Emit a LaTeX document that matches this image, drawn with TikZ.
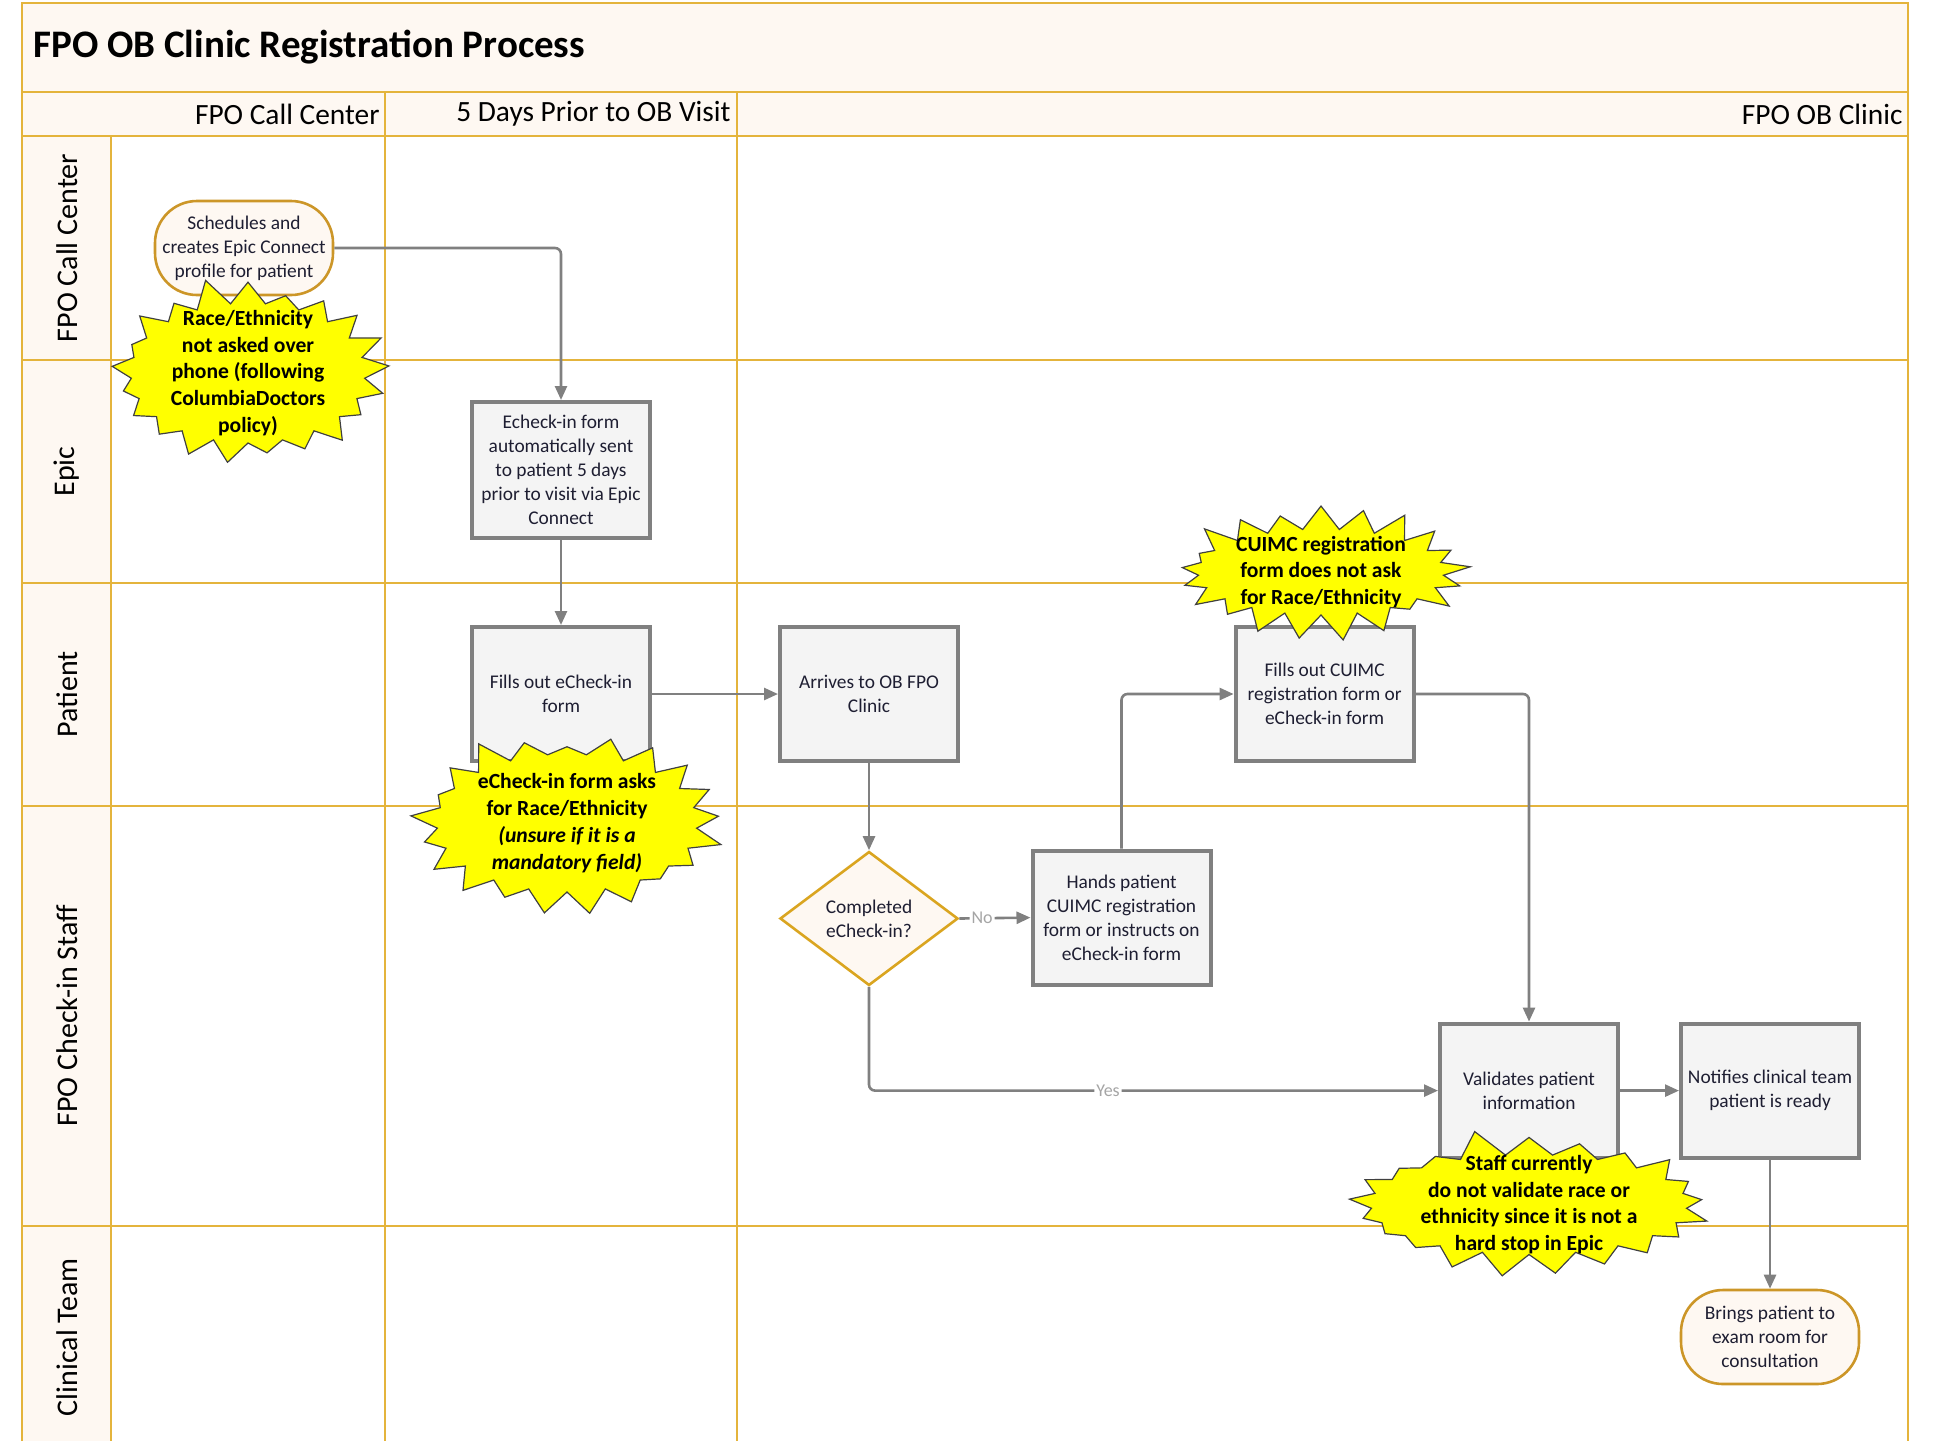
\documentclass[tikz,border=0pt]{standalone}
\usepackage{fontspec}
\setmainfont{Carlito}
\usepackage{tikz}
\usetikzlibrary{shapes.geometric, shapes.misc, shapes.symbols, arrows.meta, positioning, calc}
\definecolor{laneline}{RGB}{228, 180, 60}
\definecolor{lanefill}{RGB}{254, 248, 242}
\definecolor{boxgray}{RGB}{128, 128, 128}
\definecolor{boxfill}{RGB}{244, 244, 244}
\definecolor{termgold}{RGB}{204, 150, 40}
\definecolor{decgold}{RGB}{218, 165, 32}
\definecolor{labelgray}{RGB}{165, 165, 165}
\definecolor{textnavy}{RGB}{30, 30, 50}
\definecolor{burstyellow}{RGB}{255, 255, 0}

\begin{document}
\begin{tikzpicture}[x=0.5pt, y=-0.5pt,
  stepbox/.style={draw=boxgray, line width=2pt, fill=boxfill, minimum width=89pt, minimum height=67pt, align=center, inner sep=1pt, font=\fontsize{9.7}{12}\selectfont, text=textnavy},
  terminal/.style={rectangle, rounded corners=21pt, draw=termgold, line width=1.3pt, fill=lanefill, minimum width=89pt, minimum height=47pt, align=center, inner sep=0pt, font=\fontsize{9.7}{12}\selectfont, text=textnavy},
  decision/.style={diamond, draw=decgold, line width=1.3pt, fill=lanefill, minimum width=89pt, minimum height=67pt, inner sep=0pt, align=center, font=\fontsize{9.7}{12}\selectfont, text=textnavy},
  burst/.style={starburst, starburst points=21, starburst point height=14pt, draw=black!75, line width=0.6pt, fill=burstyellow, align=center, inner xsep=1pt, inner ysep=-10pt, font=\bfseries\fontsize{10.8}{13.4}\selectfont},
  flow/.style={draw=boxgray, line width=1.3pt, -{Triangle[length=7pt, width=6pt]}, rounded corners=3pt},
  lanetitle/.style={rotate=90, font=\fontsize{15}{18}\selectfont},
  coltitle/.style={anchor=east, inner sep=1pt, font=\fontsize{14.7}{17}\selectfont},
  flowlabel/.style={fill=white, inner sep=1pt, text=labelgray, font=\fontsize{9}{10}\selectfont}
]
  \useasboundingbox (0,0) rectangle (1941,1441);

  % Pool and lanes
  \fill[lanefill] (22,2.5) rectangle (1908,136);
  \fill[lanefill] (22,136) rectangle (111,1441);
  \begin{scope}[draw=laneline, line width=1pt]
    \draw (22,1441) -- (22,2.5) -- (1908,2.5) -- (1908,1441);
    \draw (22,91.6) -- (1908,91.6);
    \draw (22,136) -- (1908,136);
    \foreach \y in {360, 583, 806, 1225.5}
      \draw (22,\y) -- (1908,\y);
    \draw (111,136) -- (111,1441);
    \foreach \x in {385, 736.6}
      \draw (\x,91.6) -- (\x,1441);
  \end{scope}

  % Titles
  \node[anchor=west, inner sep=0pt, font=\bfseries\fontsize{19.5}{22}\selectfont] (title) at (33,47) {FPO OB Clinic Registration Process};
  \node[coltitle] (hdcall) at (382,114) {FPO Call Center};
  \node[coltitle] (hdprior) at (733,114) {5 Days Prior to OB Visit};
  \node[coltitle] (hdclinic) at (1905,114) {FPO OB Clinic};
  \node[lanetitle] (lncall) at (67,248) {FPO Call Center};
  \node[lanetitle] (lnepic) at (67,471.5) {Epic};
  \node[lanetitle] (lnpatient) at (67,694.5) {Patient};
  \node[lanetitle] (lnstaff) at (67,1015.75) {FPO Check-in Staff};
  \node[lanetitle] (lnclinical) at (67,1337) {Clinical Team};

  % Steps
  \node[terminal] (sched) at (244,248) {Schedules and\\creates Epic Connect\\profile for patient};
  \node[stepbox, minimum height=68pt] (echeck) at (561,470) {Echeck-in form\\automatically sent\\to patient 5 days\\prior to visit via Epic\\Connect};
  \node[stepbox] (fillecheck) at (561,694) {Fills out eCheck-in\\form};
  \node[stepbox] (arrive) at (869,694) {Arrives to OB FPO\\Clinic};
  \node[decision] (completed) at (869,918.5) {Completed\\eCheck-in?};
  \node[stepbox] (hands) at (1121.5,917.6) {Hands patient\\CUIMC registration\\form or instructs on\\eCheck-in form};
  \node[stepbox] (fillcuimc) at (1324.6,694) {Fills out CUIMC\\registration form or\\eCheck-in form};
  \node[stepbox] (validate) at (1529,1090.6) {Validates patient\\information};
  \node[stepbox] (notify) at (1770,1090.6) {Notifies clinical team\\patient is ready};
  \node[terminal] (brings) at (1770,1337) {Brings patient to\\exam room for\\consultation};

  % Connectors
  \draw[flow] (sched.east) -| (echeck.north);
  \draw[flow] (echeck) -- (fillecheck);
  \draw[flow] (fillecheck) -- (arrive);
  \draw[flow] (arrive) -- (completed);
  \draw[flow] (completed.east) -- node[flowlabel, pos=0.32] {No} (hands.west);
  \draw[flow] (hands.north) |- (fillcuimc.west);
  \draw[flow] (fillcuimc.east) -| (validate.north);
  \draw[flow] (completed.south) |- node[flowlabel, pos=0.71] {Yes} (validate.west);
  \draw[flow] (validate) -- (notify);
  \draw[flow] (notify) -- (brings);

  % Gaps in race/ethnicity capture
  \node[burst, random starburst=11, minimum width=145pt, minimum height=98pt] (burstcall) at (248,373) {Race/Ethnicity\\not asked over\\phone (following\\ColumbiaDoctors\\policy)};
  \node[burst, random starburst=23, minimum width=158pt, minimum height=97pt] (burstecheck) at (567,823) {eCheck-in form asks\\for Race/Ethnicity\\\textit{(unsure if it is a}\\\textit{mandatory field)}};
  \node[burst, random starburst=37, minimum width=137pt, minimum height=71pt] (burstcuimc) at (1321,572) {CUIMC registration\\form does not ask\\for Race/Ethnicity};
  \node[burst, random starburst=5, minimum width=186pt, minimum height=78pt] (burststaff) at (1529,1204.5) {Staff currently\\do not validate race or\\ethnicity since it is not a\\hard stop in Epic};
\end{tikzpicture}
\end{document}
